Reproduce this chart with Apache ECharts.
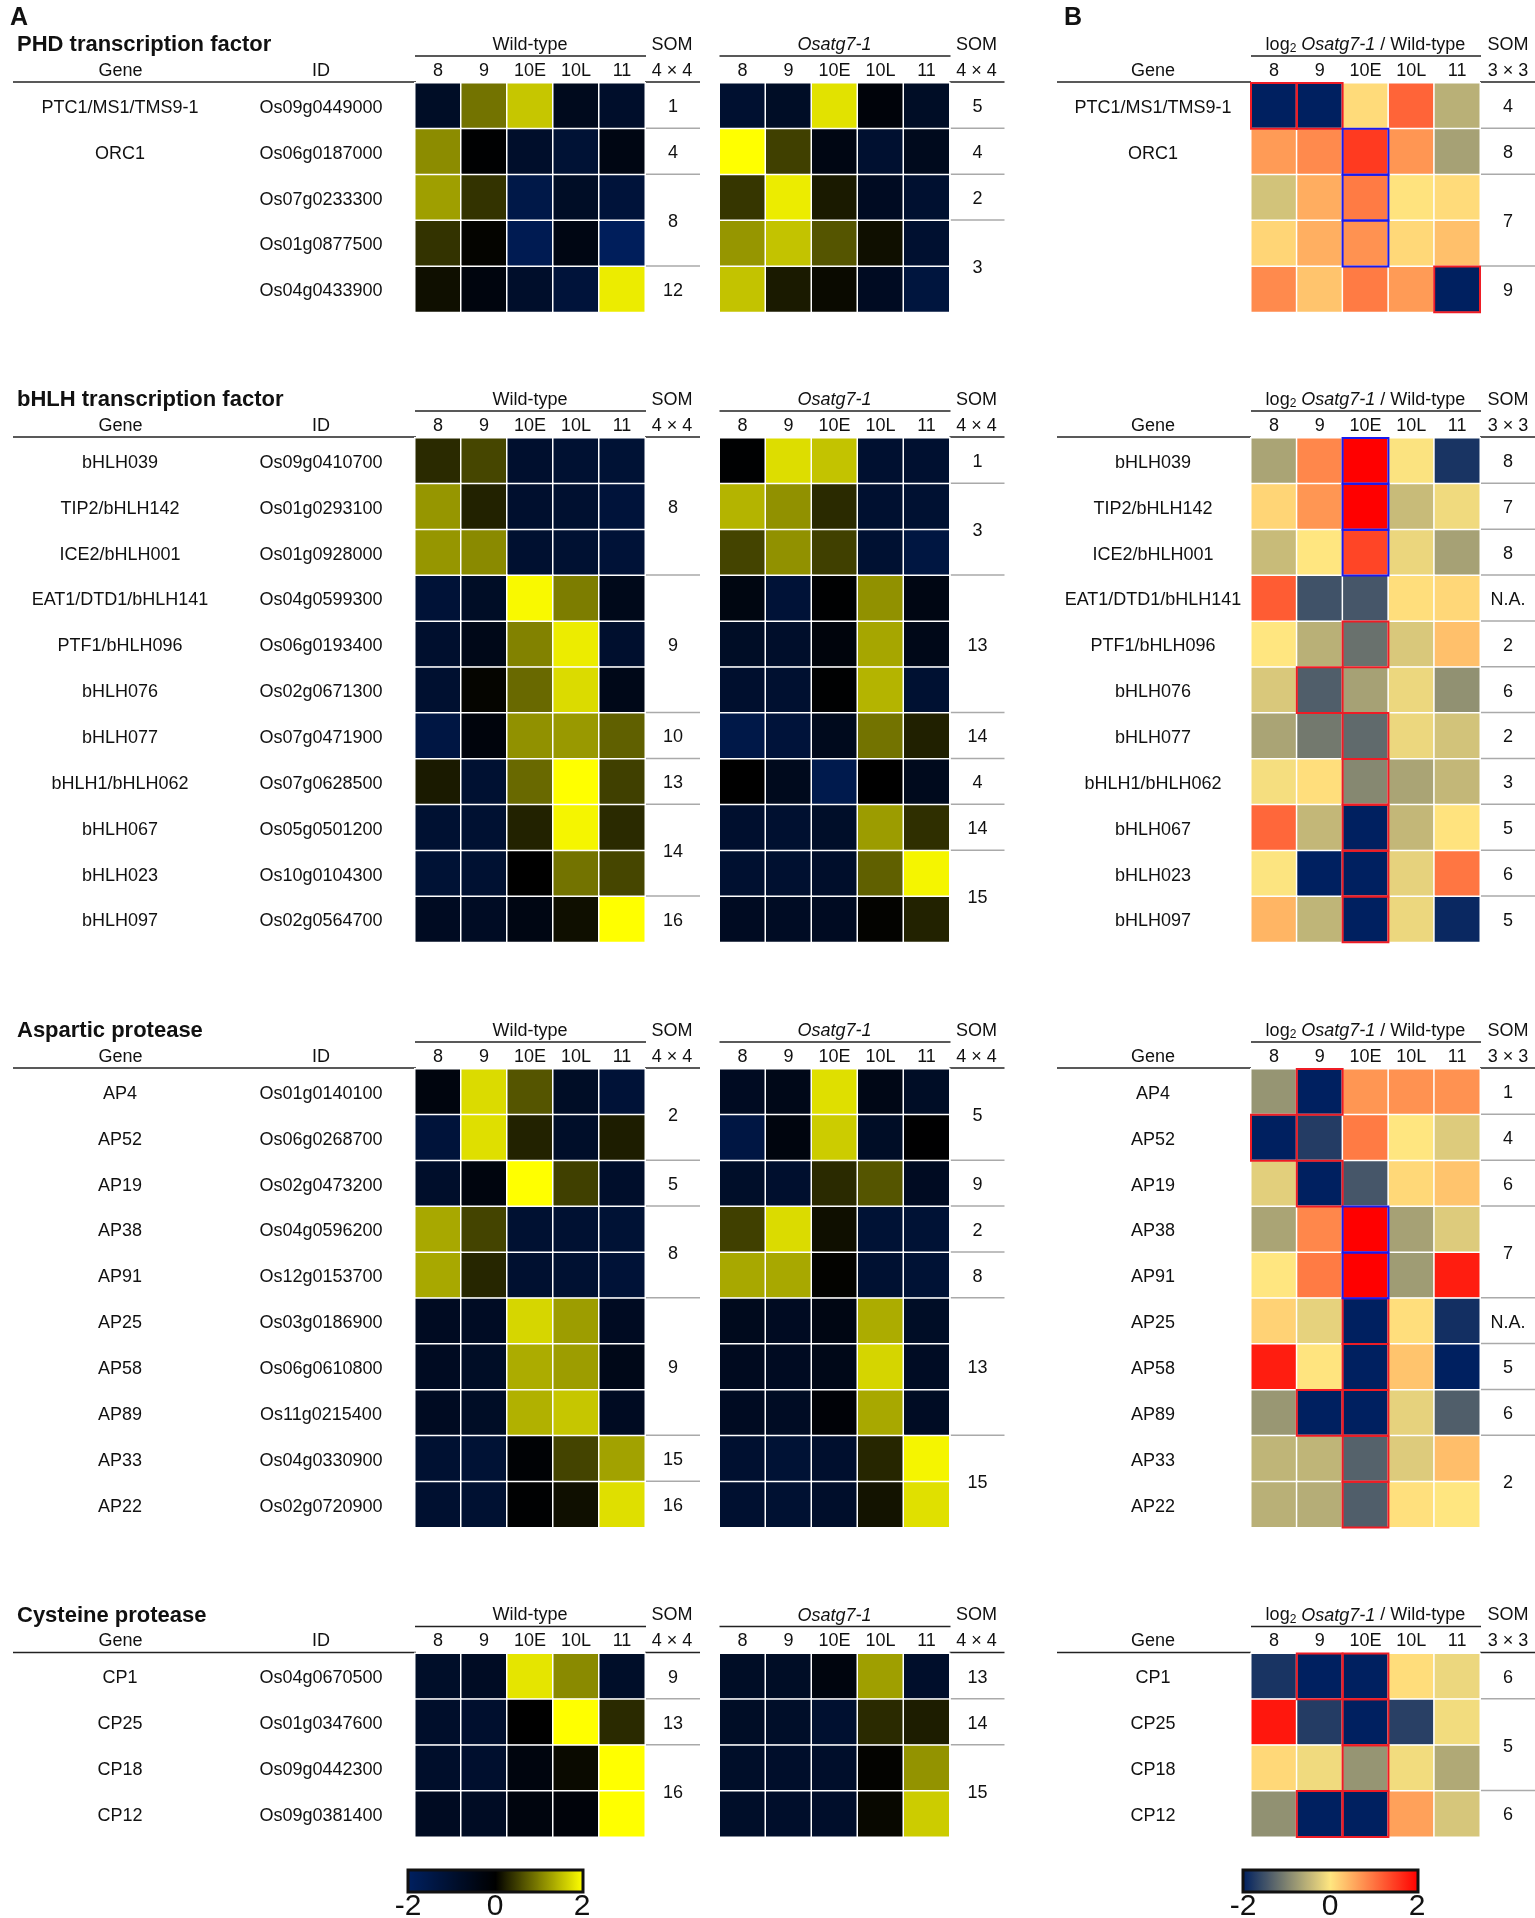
<!DOCTYPE html>
<html>
<head>
<meta charset="utf-8">
<title>Heatmaps</title>
<script src="https://cdn.jsdelivr.net/npm/echarts@6/dist/echarts.min.js"></script>
<style>
  html, body { margin: 0; padding: 0; background: #fff; }
  #chart { width: 1535px; height: 1918px; }
</style>
</head>
<body>
<div id="chart"></div>
<script>
var stages = ['8', '9', '10E', '10L', '11'];

// PHD transcription factor
var phdGenes = ['PTC1/MS1/TMS9-1', 'ORC1', '', '', ''];
var phdIds = ['Os09g0449000', 'Os06g0187000', 'Os07g0233300', 'Os01g0877500', 'Os04g0433900'];
var phdWild = [
    [-0.8, 0.9, 1.55, -0.6, -0.9],
    [1.1, -0.05, -0.9, -1.1, -0.4],
    [1.25, 0.4, -1.5, -0.8, -1.2],
    [0.4, 0.03, -1.7, -0.4, -1.9],
    [0.12, -0.3, -0.9, -1.2, 1.85]
];
var phdMutant = [
    [-1.0, -0.8, 1.77, -0.2, -0.8],
    [2, 0.5, -0.4, -1.0, -0.6],
    [0.42, 1.85, 0.2, -0.7, -1.0],
    [1.18, 1.53, 0.67, 0.12, -1.0],
    [1.53, 0.2, 0.08, -0.7, -1.3]
];
var phdRatio = [
    [-2, -2, 0.1, 1.13, -0.55],
    [0.65, 0.8, 1.5, 0.7, -0.7],
    [-0.35, 0.5, 0.93, 0.03, 0.1],
    [0.15, 0.48, 0.73, 0.12, 0.33],
    [0.8, 0.3, 0.93, 0.65, -2]
];
var phdRed = [[0, 0], [1, 0], [4, 4]];
var phdBlue = [[2, 1], [2, 2], [2, 3]];
var phdSomWild = [['1', 1], ['4', 1], ['8', 2], ['12', 1]];
var phdSomMutant = [['5', 1], ['4', 1], ['2', 1], ['3', 2]];
var phdSomRatio = [['4', 1], ['8', 1], ['7', 2], ['9', 1]];

// bHLH transcription factor
var bhlhGenes = ['bHLH039', 'TIP2/bHLH142', 'ICE2/bHLH001', 'EAT1/DTD1/bHLH141', 'PTF1/bHLH096', 'bHLH076', 'bHLH077', 'bHLH1/bHLH062', 'bHLH067', 'bHLH023', 'bHLH097'];
var bhlhIds = ['Os09g0410700', 'Os01g0293100', 'Os01g0928000', 'Os04g0599300', 'Os06g0193400', 'Os02g0671300', 'Os07g0471900', 'Os07g0628500', 'Os05g0501200', 'Os10g0104300', 'Os02g0564700'];
var bhlhWild = [
    [0.33, 0.55, -0.95, -1.05, -1.1],
    [1.18, 0.27, -0.95, -1.0, -1.2],
    [1.18, 1.08, -1.0, -1.05, -1.15],
    [-1.15, -0.8, 1.95, 0.98, -0.55],
    [-0.95, -0.5, 1.02, 1.85, -0.95],
    [-1.0, 0.04, 0.82, 1.72, -0.5],
    [-1.4, -0.25, 1.14, 1.2, 0.75],
    [0.2, -1.05, 0.82, 2, 0.5],
    [-1.05, -1.05, 0.27, 1.92, 0.33],
    [-1.1, -1.05, 0, 0.9, 0.55],
    [-0.7, -0.75, -0.4, 0.12, 2]
];
var bhlhMutant = [
    [-0.05, 1.73, 1.53, -1.0, -1.0],
    [1.41, 1.14, 0.33, -1.0, -1.05],
    [0.53, 1.14, 0.5, -1.05, -1.35],
    [-0.35, -1.15, -0.05, 1.14, -0.4],
    [-0.8, -0.9, -0.25, 1.3, -0.5],
    [-0.95, -1.0, -0.05, 1.41, -1.05],
    [-1.5, -1.2, -0.6, 0.9, 0.25],
    [0, -0.6, -1.6, 0, -0.6],
    [-0.95, -1.0, -0.85, 1.22, 0.37],
    [-1.0, -1.0, -0.9, 0.75, 1.92],
    [-0.7, -0.75, -0.7, 0.02, 0.27]
];
var bhlhRatio = [
    [-0.67, 0.83, 2, -0.03, -1.8],
    [0.15, 0.7, 2, -0.43, -0.12],
    [-0.43, 0, 1.4, -0.16, -0.7],
    [1.2, -1.5, -1.45, 0.07, 0.13],
    [0, -0.55, -1.18, -0.3, 0.33],
    [-0.3, -1.37, -0.7, -0.15, -0.86],
    [-0.67, -1.1, -1.25, -0.15, -0.35],
    [-0.08, 0.07, -0.95, -0.67, -0.47],
    [1.1, -0.47, -2, -0.47, 0.03],
    [-0.02, -2, -2, -0.2, 0.97],
    [0.43, -0.5, -2, -0.15, -1.92]
];
var bhlhRed = [[2, 4], [1, 5], [2, 6], [2, 7], [2, 8], [2, 9], [2, 10]];
var bhlhBlue = [[2, 0], [2, 1], [2, 2]];
var bhlhSomWild = [['8', 3], ['9', 3], ['10', 1], ['13', 1], ['14', 2], ['16', 1]];
var bhlhSomMutant = [['1', 1], ['3', 2], ['13', 3], ['14', 1], ['4', 1], ['14', 1], ['15', 2]];
var bhlhSomRatio = [['8', 1], ['7', 1], ['8', 1], ['N.A.', 1], ['2', 1], ['6', 1], ['2', 1], ['3', 1], ['5', 1], ['6', 1], ['5', 1]];

// Aspartic protease
var apGenes = ['AP4', 'AP52', 'AP19', 'AP38', 'AP91', 'AP25', 'AP58', 'AP89', 'AP33', 'AP22'];
var apIds = ['Os01g0140100', 'Os06g0268700', 'Os02g0473200', 'Os04g0596200', 'Os12g0153700', 'Os03g0186900', 'Os06g0610800', 'Os11g0215400', 'Os04g0330900', 'Os02g0720900'];
var apWild = [
    [-0.3, 1.72, 0.67, -0.8, -1.15],
    [-1.2, 1.75, 0.27, -0.85, 0.23],
    [-0.9, -0.3, 2, 0.5, -0.9],
    [1.32, 0.53, -1.05, -1.05, -1.1],
    [1.32, 0.3, -1.0, -1.05, -1.15],
    [-0.7, -0.75, 1.68, 1.23, -0.7],
    [-0.7, -0.8, 1.35, 1.23, -0.5],
    [-0.7, -0.8, 1.39, 1.55, -0.7],
    [-1.05, -1.1, -0.1, 0.53, 1.27],
    [-1.0, -1.05, -0.05, 0.12, 1.75]
];
var apMutant = [
    [-0.7, -0.5, 1.75, -0.45, -0.8],
    [-1.4, -0.3, 1.6, -0.8, -0.02],
    [-0.85, -0.95, 0.33, 0.67, -0.7],
    [0.5, 1.72, 0.12, -1.1, -1.1],
    [1.32, 1.32, 0.02, -1.05, -1.1],
    [-0.6, -0.7, -0.4, 1.35, -0.8],
    [-0.65, -0.7, -0.5, 1.67, -0.75],
    [-0.7, -0.75, -0.15, 1.32, -0.75],
    [-1.0, -1.1, -0.95, 0.3, 1.92],
    [-1.0, -1.05, -0.9, 0.15, 1.76]
];
var apRatio = [
    [-0.82, -2, 0.7, 0.73, 0.73],
    [-2, -1.72, 0.93, 0, -0.27],
    [-0.23, -2, -1.45, 0.12, 0.3],
    [-0.67, 0.83, 2, -0.7, -0.27],
    [0, 0.93, 2, -0.75, 1.75],
    [0.17, -0.2, -2, 0.07, -1.85],
    [1.75, 0.02, -2, 0.3, -2],
    [-0.8, -2, -2, -0.2, -1.37],
    [-0.5, -0.5, -1.33, -0.27, 0.35],
    [-0.55, -0.58, -1.37, 0.05, 0]
];
var apRed = [[1, 0], [0, 1], [1, 2], [2, 5], [2, 6], [1, 7], [2, 7], [2, 8], [2, 9]];
var apBlue = [[2, 3], [2, 4]];
var apSomWild = [['2', 2], ['5', 1], ['8', 2], ['9', 3], ['15', 1], ['16', 1]];
var apSomMutant = [['5', 2], ['9', 1], ['2', 1], ['8', 1], ['13', 3], ['15', 2]];
var apSomRatio = [['1', 1], ['4', 1], ['6', 1], ['7', 2], ['N.A.', 1], ['5', 1], ['6', 1], ['2', 2]];

// Cysteine protease
var cpGenes = ['CP1', 'CP25', 'CP18', 'CP12'];
var cpIds = ['Os04g0670500', 'Os01g0347600', 'Os09g0442300', 'Os09g0381400'];
var cpWild = [
    [-0.85, -0.75, 1.8, 1.08, -0.85],
    [-0.9, -0.95, 0, 2, 0.33],
    [-0.9, -0.95, -0.3, 0.08, 2],
    [-0.7, -0.75, -0.3, -0.2, 2]
];
var cpMutant = [
    [-0.8, -0.8, -0.3, 1.25, -0.9],
    [-0.8, -0.85, -1.0, 0.33, 0.23],
    [-0.85, -0.9, -0.9, 0.02, 1.15],
    [-0.85, -0.9, -0.9, 0.06, 1.6]
];
var cpRatio = [
    [-1.8, -2, -2, 0.08, -0.15],
    [1.8, -1.72, -2, -1.68, -0.1],
    [0.12, -0.12, -0.82, -0.1, -0.62],
    [-0.86, -2, -2, 0.6, -0.32]
];
var cpRed = [[1, 0], [2, 0], [2, 1], [2, 2], [1, 3], [2, 3]];
var cpBlue = [];
var cpSomWild = [['9', 1], ['13', 1], ['16', 2]];
var cpSomMutant = [['13', 1], ['14', 1], ['15', 2]];
var cpSomRatio = [['6', 1], ['5', 2], ['6', 1]];

var scaleTicks = ['-2', '0', '2'];

var sections = [
    {title: 'PHD transcription factor', top: 83, genes: phdGenes, ids: phdIds, wild: phdWild, mutant: phdMutant, ratio: phdRatio, red: phdRed, blue: phdBlue, somWild: phdSomWild, somMutant: phdSomMutant, somRatio: phdSomRatio},
    {title: 'bHLH transcription factor', top: 438, genes: bhlhGenes, ids: bhlhIds, wild: bhlhWild, mutant: bhlhMutant, ratio: bhlhRatio, red: bhlhRed, blue: bhlhBlue, somWild: bhlhSomWild, somMutant: bhlhSomMutant, somRatio: bhlhSomRatio},
    {title: 'Aspartic protease', top: 1069, genes: apGenes, ids: apIds, wild: apWild, mutant: apMutant, ratio: apRatio, red: apRed, blue: apBlue, somWild: apSomWild, somMutant: apSomMutant, somRatio: apSomRatio},
    {title: 'Cysteine protease', top: 1653.5, genes: cpGenes, ids: cpIds, wild: cpWild, mutant: cpMutant, ratio: cpRatio, red: cpRed, blue: cpBlue, somWild: cpSomWild, somMutant: cpSomMutant, somRatio: cpSomRatio}
];

var FONT = '"Liberation Sans", Arial, sans-serif';
var INK = '#111';
var ROW = 45.85;
var WILD_X = 415, MUT_X = 719.5, RATIO_X = 1251;
var CELLS_W = 230, RATIO_W = 229, SOM_W = 54;

var grids = [], xAxes = [], yAxes = [], series = [], graphics = [];
var yellowSeries = [], ratioSeries = [];

function addText(x, y, str, font, align) {
    graphics.push({
        type: 'text',
        silent: true,
        style: {x: x, y: y, text: str, font: font || ('18px ' + FONT), fill: INK, textAlign: align || 'center', textVerticalAlign: 'middle'}
    });
}

function addLine(x1, x2, y, color, width) {
    graphics.push({
        type: 'line',
        silent: true,
        shape: {x1: x1, y1: y, x2: x2, y2: y},
        style: {stroke: color || '#222', lineWidth: width || 1.5}
    });
}

// SOM column: one number per group, grey line under each group except the last
function addSom(x, top, groups) {
    var row = 0;
    groups.forEach(function (g, i) {
        addText(x + SOM_W / 2, top + (row + g[1] / 2) * ROW + 1.5, g[0]);
        row += g[1];
        if (i < groups.length - 1) {
            addLine(x, x + SOM_W, top + row * ROW - 0.5, '#aaa', 1.5);
        }
    });
}

function cellData(values) {
    var res = [];
    values.forEach(function (row, r) {
        row.forEach(function (v, c) {
            res.push([c, r, v]);
        });
    });
    return res;
}

function addHeatmap(x, w, section, values, leftAxes) {
    var g = grids.length;
    grids.push({left: x, top: section.top, width: w, height: values.length * ROW, containLabel: false});
    xAxes.push({
        type: 'category', gridIndex: g, position: 'top', data: stages,
        axisLine: {show: false}, axisTick: {show: false}, splitLine: {show: false},
        axisLabel: {interval: 0, margin: 3, fontSize: 18, fontFamily: FONT, color: INK}
    });
    var yIndex = yAxes.length;
    leftAxes.forEach(function (a) {
        yAxes.push({
            type: 'category', gridIndex: g, position: 'left', inverse: true, data: a.labels,
            min: 0, max: a.labels.length - 1,
            axisLine: {show: false}, axisTick: {show: false}, splitLine: {show: false},
            axisLabel: {
                interval: 0, margin: a.margin, align: 'center',
                formatter: function (v) { return v ? '{r|' + v + '}' : ''; },
                rich: {r: {fontSize: 18, fontFamily: FONT, color: INK, padding: [4, 0, 0, 0]}}
            }
        });
    });
    series.push({
        type: 'heatmap',
        xAxisIndex: g,
        yAxisIndex: yIndex,
        data: cellData(values),
        itemStyle: {borderColor: '#fff', borderWidth: 1.5},
        emphasis: {disabled: true},
        animation: false,
        progressive: 0
    });
    return {grid: g, y: yIndex, index: series.length - 1};
}

function addFrames(target, section) {
    var frames = [];
    section.red.forEach(function (c) { frames.push([c[0], c[1], '#ee1c25']); });
    section.blue.forEach(function (c) { frames.push([c[0], c[1], '#1a1aee']); });
    if (!frames.length) return;
    series.push({
        type: 'custom',
        xAxisIndex: target.grid,
        yAxisIndex: target.y,
        silent: true,
        animation: false,
        clip: false,
        z: 5,
        encode: {x: 0, y: 1},
        data: frames,
        renderItem: function (params, api) {
            var p = api.coord([api.value(0), api.value(1)]);
            var s = api.size([1, 1]);
            return {
                type: 'rect',
                shape: {x: p[0] - s[0] / 2, y: p[1] - s[1] / 2, width: s[0], height: s[1]},
                style: {fill: 'none', stroke: frames[params.dataIndex][2], lineWidth: 2}
            };
        }
    });
}

sections.forEach(function (sec) {
    var rule = sec.top - 1;
    var headY = sec.top - 38;
    var barY = sec.top - 27;

    var wt = addHeatmap(WILD_X, CELLS_W, sec, sec.wild, [
        {labels: sec.ids, margin: 94},
        {labels: sec.genes, margin: 295}
    ]);
    yellowSeries.push(wt.index);
    var mt = addHeatmap(MUT_X, CELLS_W, sec, sec.mutant, [{labels: sec.ids.map(function () { return ''; }), margin: 10}]);
    yellowSeries.push(mt.index);
    var rt = addHeatmap(RATIO_X, RATIO_W, sec, sec.ratio, [{labels: sec.genes, margin: 98}]);
    ratioSeries.push(rt.index);
    addFrames(rt, sec);

    addText(17, headY, sec.title, 'bold 22px ' + FONT, 'left');
    addText(WILD_X + CELLS_W / 2, headY, 'Wild-type');
    addText(MUT_X + CELLS_W / 2, headY, 'Osatg7-1', 'italic 18px ' + FONT);
    addText(WILD_X + CELLS_W + SOM_W / 2, headY, 'SOM');
    addText(MUT_X + CELLS_W + SOM_W / 2, headY, 'SOM');
    addText(RATIO_X + RATIO_W + SOM_W / 2 + 1, headY, 'SOM');

    addText(120.5, sec.top - 12, 'Gene');
    addText(321, sec.top - 12, 'ID');
    addText(1153, sec.top - 12, 'Gene');
    addText(WILD_X + CELLS_W + SOM_W / 2, sec.top - 12, '4 \u00d7 4');
    addText(MUT_X + CELLS_W + SOM_W / 2, sec.top - 12, '4 \u00d7 4');
    addText(RATIO_X + RATIO_W + SOM_W / 2 + 1, sec.top - 12, '3 \u00d7 3');

    graphics.push({
        type: 'text',
        silent: true,
        style: {
            x: RATIO_X + RATIO_W / 2, y: headY,
            text: 'log{sub|2} {it|Osatg7-1} / Wild-type',
            font: '18px ' + FONT, fill: INK, textAlign: 'center', textVerticalAlign: 'middle',
            rich: {
                sub: {fontSize: 12, fontFamily: FONT, fill: INK, padding: [8, 0, 0, 0]},
                it: {fontSize: 18, fontFamily: FONT, fontStyle: 'italic', fill: INK}
            }
        }
    });

    addLine(13, WILD_X + 1, rule);
    addLine(WILD_X + CELLS_W, WILD_X + CELLS_W + SOM_W + 1, rule);
    addLine(MUT_X + CELLS_W, MUT_X + CELLS_W + SOM_W + 1, rule);
    addLine(1057, RATIO_X, rule);
    addLine(RATIO_X + RATIO_W, 1535, rule);
    addLine(WILD_X, WILD_X + CELLS_W + 1, barY);
    addLine(MUT_X, MUT_X + CELLS_W + 1, barY);
    addLine(RATIO_X, RATIO_X + RATIO_W + 1, barY);

    addSom(WILD_X + CELLS_W + 1, sec.top, sec.somWild);
    addSom(MUT_X + CELLS_W + 1, sec.top, sec.somMutant);
    addSom(RATIO_X + RATIO_W + 1, sec.top, sec.somRatio);
});

// panel letters
addText(10, 18, 'A', 'bold 25px ' + FONT, 'left');
addText(1064, 18, 'B', 'bold 25px ' + FONT, 'left');

// frames and tick labels of the two colour scales
[408, 1243].forEach(function (x) {
    graphics.push({
        type: 'rect',
        silent: true,
        z: 20,
        shape: {x: x, y: 1870, width: 175, height: 22},
        style: {fill: 'none', stroke: '#111', lineWidth: 3}
    });
    scaleTicks.forEach(function (t, i) {
        addText(x + i * 87, 1907, t, '30px ' + FONT);
    });
});

function scaleBar(left, seriesIndex, colors) {
    return {
        type: 'continuous',
        min: -2,
        max: 2,
        orient: 'horizontal',
        left: left,
        top: 1870,
        itemWidth: 22,
        itemHeight: 175,
        padding: 0,
        text: null,
        showLabel: false,
        calculable: false,
        hoverLink: false,
        seriesIndex: seriesIndex,
        inRange: {color: colors},
        textStyle: {color: 'rgba(0,0,0,0)', fontSize: 1}
    };
}

var option = {
    backgroundColor: '#fff',
    animation: false,
    grid: grids,
    xAxis: xAxes,
    yAxis: yAxes,
    visualMap: [
        scaleBar(408, yellowSeries, ['#002060', '#000000', '#ffff00']),
        scaleBar(1243, ratioSeries, ['#002060', '#ffe680', '#ff0000'])
    ],
    series: series,
    graphic: {elements: graphics}
};

var chart = echarts.init(document.getElementById('chart'));
chart.setOption(option);
</script>
</body>
</html>
